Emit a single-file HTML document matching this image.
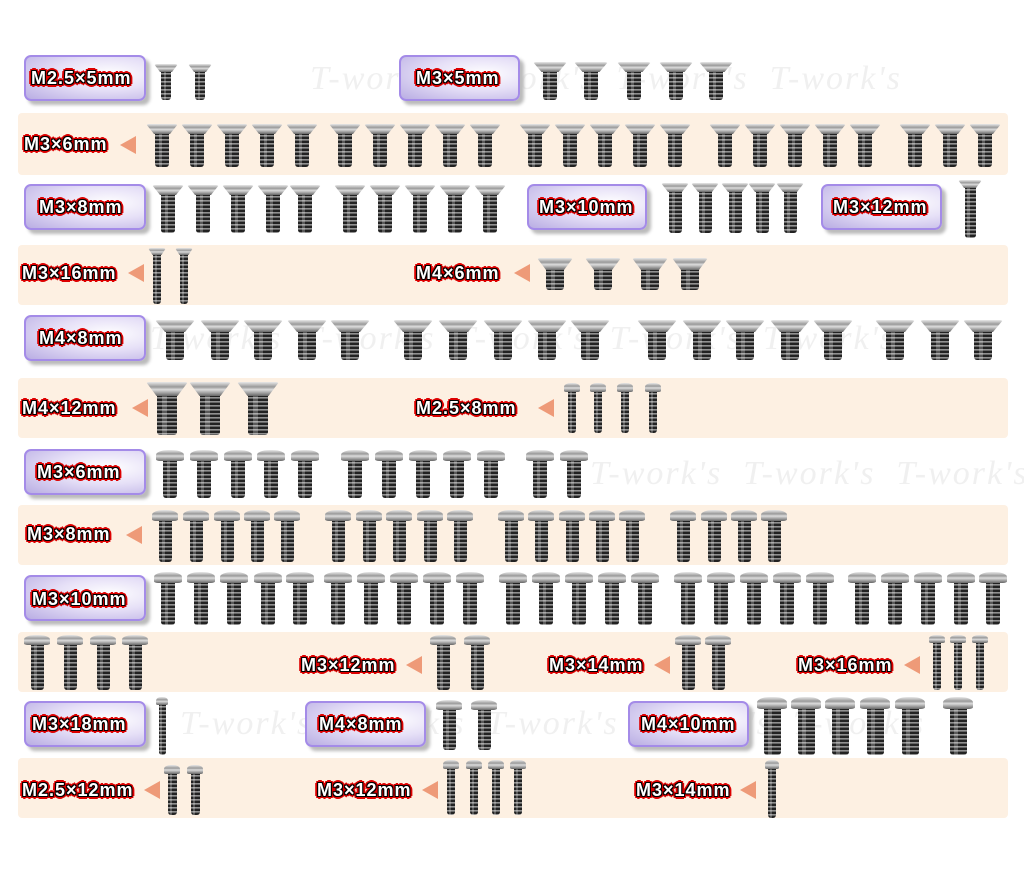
<!DOCTYPE html>
<html><head><meta charset="utf-8">
<style>
body{margin:0;width:1024px;height:874px;background:#fff;position:relative;overflow:hidden;font-family:"Liberation Sans",sans-serif}
.band{position:absolute;left:18px;width:990px;background:#fdf0e2;border-radius:4px}
.box{position:absolute;height:46px;border:2px solid #a48be8;border-radius:7px;background:radial-gradient(ellipse at 70% 40%,#ffffff 0%,#e6e0f7 45%,#b9ade3 100%);box-shadow:4px 4px 3px #bbb;box-sizing:border-box}
.lab{position:absolute;font-weight:bold;font-size:18px;color:#fff;white-space:nowrap;letter-spacing:1px;
text-shadow:1px 0 0 #000,-1px 0 0 #000,0 1px 0 #000,0 -1px 0 #000,1px 1px 0 #000,-1px -1px 0 #000,1px -1px 0 #000,-1px 1px 0 #000,2px 0 0 #d00,-2px 0 0 #d00,0 2px 0 #d00,0 -2px 0 #d00,2px 2px 0 #d00,-2px -2px 0 #d00,2px -2px 0 #d00,-2px 2px 0 #d00,3px 0 0 #d00,-3px 0 0 #d00,0 3px 0 #d00,0 -3px 0 #d00}
.arr{position:absolute;width:0;height:0;border-top:9px solid transparent;border-bottom:9px solid transparent;border-right:16px solid #ee9a78}
.s{position:absolute}
.h{position:absolute;left:0;right:0;top:0;background:linear-gradient(180deg,#e8e8e8 0%,#9a9a9a 35%,#dcdcdc 55%,#666 100%)}
.fh{clip-path:polygon(0 0,100% 0,75% 100%,25% 100%);border-radius:3px 3px 0 0}
.bh{border-radius:45% 45% 15% 15%}
.b{position:absolute;bottom:0;background:repeating-linear-gradient(180deg,#222 0,#222 2px,#888 2px,#999 3px,#333 4px),#333;border-radius:0 0 3px 3px}
.b::after{content:"";position:absolute;left:25%;width:25%;top:0;bottom:0;background:rgba(255,255,255,0.25)}
.wm{position:absolute;font-family:"Liberation Serif",serif;font-style:italic;font-size:34px;color:#f0f0f0;white-space:nowrap;letter-spacing:2px}
</style></head><body>
<div class="band" style="top:113px;height:62px"></div>
<div class="band" style="top:245px;height:60px"></div>
<div class="band" style="top:378px;height:60px"></div>
<div class="band" style="top:505px;height:60px"></div>
<div class="band" style="top:632px;height:60px"></div>
<div class="band" style="top:758px;height:60px"></div>

<div class="wm" style="left:310px;top:60px">T-work's &nbsp;T-work's &nbsp;T-work's &nbsp;T-work's</div>
<div class="wm" style="left:150px;top:320px">T-work's &nbsp;T-work's &nbsp;T-work's &nbsp;T-work's &nbsp;T-work's</div>
<div class="wm" style="left:590px;top:455px">T-work's &nbsp;T-work's &nbsp;T-work's</div>
<div class="wm" style="left:180px;top:705px">T-work's &nbsp;T-work's &nbsp;T-work's &nbsp;T-work's &nbsp;T-work's</div>

<div class="box" style="left:24px;top:55px;width:122px"></div><div class="lab" style="left:31px;top:68px">M2.5×5mm</div>
<div class="box" style="left:399px;top:55px;width:121px"></div><div class="lab" style="left:416px;top:68px">M3×5mm</div>
<div class="lab" style="left:24px;top:134px">M3×6mm</div><div class="arr" style="left:120px;top:136px"></div>
<div class="box" style="left:24px;top:184px;width:122px"></div><div class="lab" style="left:39px;top:197px">M3×8mm</div>
<div class="box" style="left:527px;top:184px;width:120px"></div><div class="lab" style="left:539px;top:197px">M3×10mm</div>
<div class="box" style="left:821px;top:184px;width:121px"></div><div class="lab" style="left:833px;top:197px">M3×12mm</div>
<div class="lab" style="left:22px;top:263px">M3×16mm</div><div class="arr" style="left:128px;top:264px"></div>
<div class="lab" style="left:416px;top:263px">M4×6mm</div><div class="arr" style="left:514px;top:264px"></div>
<div class="box" style="left:24px;top:315px;width:122px"></div><div class="lab" style="left:39px;top:328px">M4×8mm</div>
<div class="lab" style="left:22px;top:398px">M4×12mm</div><div class="arr" style="left:132px;top:399px"></div>
<div class="lab" style="left:416px;top:398px">M2.5×8mm</div><div class="arr" style="left:538px;top:399px"></div>
<div class="box" style="left:24px;top:449px;width:122px"></div><div class="lab" style="left:37px;top:462px">M3×6mm</div>
<div class="lab" style="left:27px;top:524px">M3×8mm</div><div class="arr" style="left:126px;top:526px"></div>
<div class="box" style="left:24px;top:575px;width:122px"></div><div class="lab" style="left:32px;top:589px">M3×10mm</div>
<div class="lab" style="left:301px;top:655px">M3×12mm</div><div class="arr" style="left:406px;top:656px"></div>
<div class="lab" style="left:549px;top:655px">M3×14mm</div><div class="arr" style="left:654px;top:656px"></div>
<div class="lab" style="left:798px;top:655px">M3×16mm</div><div class="arr" style="left:904px;top:656px"></div>
<div class="box" style="left:24px;top:701px;width:122px"></div><div class="lab" style="left:32px;top:714px">M3×18mm</div>
<div class="box" style="left:305px;top:701px;width:121px"></div><div class="lab" style="left:319px;top:714px">M4×8mm</div>
<div class="box" style="left:628px;top:701px;width:121px"></div><div class="lab" style="left:641px;top:714px">M4×10mm</div>
<div class="lab" style="left:22px;top:780px">M2.5×12mm</div><div class="arr" style="left:144px;top:781px"></div>
<div class="lab" style="left:317px;top:780px">M3×12mm</div><div class="arr" style="left:422px;top:781px"></div>
<div class="lab" style="left:636px;top:780px">M3×14mm</div><div class="arr" style="left:740px;top:781px"></div>

<div id="sc"></div>
<script>
var out='';
function S(xs,y1,y2,hw,hh,bw,t){xs.forEach(function(c){
out+='<div class="s" style="left:'+(c-hw/2)+'px;top:'+y1+'px;width:'+hw+'px;height:'+(y2-y1)+'px">'+
'<div class="b" style="left:'+((hw-bw)/2)+'px;width:'+bw+'px;top:'+(hh-1)+'px"></div>'+
'<div class="h '+(t?'bh':'fh')+'" style="height:'+hh+'px"></div></div>';});}
S([166,200],64,100,24,8,10,0);
S([550,591,634,676,716],62,100,34,10,14,0);
S([162,197,232,267,302,345,380,415,450,485,535,570,605,640,675,725,760,795,830,865,915,950,985],124,167,32,10,14,0);
S([168,203,238,273,305,350,385,420,455,490],185,233,32,10,14,0);
S([675,705,735,762,790],183,233,28,9,13,0);
S([970],180,238,24,8,11,0);
S([157,184],248,304,18,7,8,0);
S([555,603,650,690],258,290,36,12,18,0);
S([175,220,263,307,350,413,458,503,547,590,657,702,745,790,833,895,940,983],320,360,40,12,18,0);
S([167,210,258],382,435,42,14,20,0);
S([572,598,625,653],383,433,16,9,8,1);
S([170,204,238,271,305,355,389,423,457,491,540,574],450,498,28,11,14,1);
S([165,196,227,257,287,338,369,399,430,460,511,541,572,602,632,683,714,744,774],510,562,26,11,13,1);
S([168,201,234,268,300,338,371,404,437,470,513,546,579,612,645,688,721,754,787,820,862,895,928,961,993],572,625,28,11,14,1);
S([37,70,103,135,443,477,688,718],635,690,26,10,13,1);
S([937,958,980],635,690,16,8,8,1);
S([162],697,755,12,8,7,1);
S([449,484],700,750,26,10,13,1);
S([772,806,840,875,910,958],697,755,30,12,17,1);
S([172,195],765,815,16,9,9,1);
S([451,474,496,518],760,815,16,9,8,1);
S([772],760,818,14,9,8,1);
document.getElementById('sc').innerHTML=out;
</script>
</body></html>
